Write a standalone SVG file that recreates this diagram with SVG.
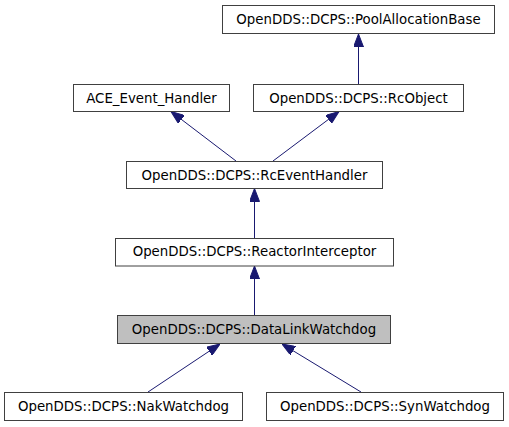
<svg xmlns="http://www.w3.org/2000/svg" width="509" height="427" viewBox="0 0 509 427">
<style>
.box{fill:#ffffff;stroke:#404040;stroke-width:1}
.cur{fill:#bfbfbf;stroke:#404040;stroke-width:1}
.lbl{font-family:"DejaVu Sans",sans-serif;font-size:13.33px;fill:#000000;text-anchor:middle}
.edge{stroke:#191970;stroke-width:1;fill:none;marker-end:url(#ah)}
</style>
<defs>
<marker id="ah" markerUnits="userSpaceOnUse" markerWidth="13" markerHeight="10" refX="13" refY="5" orient="auto">
<path d="M0,0 L13,5 L0,10 z" fill="#191970" stroke="#191970" stroke-width="1"/>
</marker>
</defs>
<rect width="509" height="427" fill="#ffffff"/>
<g id="connectors">
<line class="edge" x1="358.5" y1="84" x2="358.5" y2="34"/>
<line class="edge" x1="236" y1="161" x2="171" y2="111.5"/>
<line class="edge" x1="273" y1="161" x2="339" y2="111.5"/>
<line class="edge" x1="254.5" y1="238" x2="254.5" y2="188.5"/>
<line class="edge" x1="254.5" y1="315" x2="254.5" y2="266"/>
<line class="edge" x1="148" y1="392" x2="220" y2="344"/>
<line class="edge" x1="361" y1="392" x2="282" y2="344"/>
</g>
<g id="PoolAllocationBase">
<rect class="box" x="222.5" y="5.5" width="272" height="28"/>
<text class="lbl" x="358.5" y="24">OpenDDS::DCPS::PoolAllocationBase</text>
</g>
<g id="ACE_Event_Handler">
<rect class="box" x="73.5" y="84.5" width="156" height="27"/>
<text class="lbl" x="151.5" y="102.5">ACE_Event_Handler</text>
</g>
<g id="RcObject">
<rect class="box" x="253.5" y="84.5" width="210" height="27"/>
<text class="lbl" x="358.5" y="102.5">OpenDDS::DCPS::RcObject</text>
</g>
<g id="RcEventHandler">
<rect class="box" x="126.5" y="161.5" width="256" height="27"/>
<text class="lbl" x="254.5" y="179.5">OpenDDS::DCPS::RcEventHandler</text>
</g>
<g id="ReactorInterceptor">
<rect class="box" x="115.5" y="238.5" width="278" height="27.5"/>
<text class="lbl" x="254.5" y="256">OpenDDS::DCPS::ReactorInterceptor</text>
</g>
<g id="DataLinkWatchdog">
<rect class="cur" x="117.5" y="315.5" width="273" height="28"/>
<text class="lbl" x="254" y="333.5">OpenDDS::DCPS::DataLinkWatchdog</text>
</g>
<g id="NakWatchdog">
<rect class="box" x="4.5" y="392.5" width="238" height="28"/>
<text class="lbl" x="123.5" y="410.5">OpenDDS::DCPS::NakWatchdog</text>
</g>
<g id="SynWatchdog">
<rect class="box" x="266.5" y="392.5" width="237" height="28"/>
<text class="lbl" x="385" y="410.5">OpenDDS::DCPS::SynWatchdog</text>
</g>
</svg>
